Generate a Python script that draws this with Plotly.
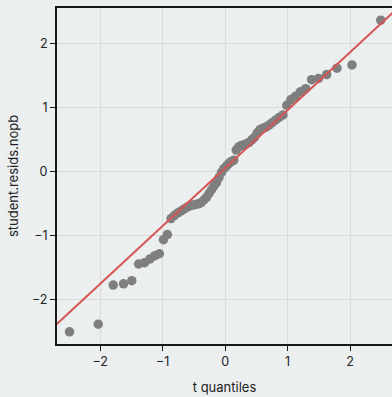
import plotly.graph_objects as go

# t quantiles (x) and sorted studentized residuals (y)
t_quantiles = [-2.49, -2.03, -1.79, -1.625, -1.494, -1.384, -1.288, -1.203, -1.124, -1.053,
               -0.986, -0.924, -0.865, -0.809, -0.755, -0.704, -0.654, -0.606, -0.559, -0.514,
               -0.470, -0.426, -0.383, -0.341, -0.299, -0.258, -0.218, -0.178, -0.138, -0.098,
               -0.059, -0.020, 0.020, 0.059, 0.098, 0.138, 0.178, 0.218, 0.258, 0.299,
               0.341, 0.383, 0.426, 0.470, 0.514, 0.559, 0.606, 0.654, 0.704, 0.755,
               0.809, 0.865, 0.924, 0.986, 1.053, 1.124, 1.203, 1.288, 1.384, 1.494,
               1.625, 1.79, 2.03, 2.49]
student_resids = [-2.51, -2.39, -1.78, -1.76, -1.71, -1.45, -1.43, -1.37, -1.32, -1.29,
                  -1.07, -0.99, -0.74, -0.69, -0.65, -0.62, -0.59, -0.56, -0.54, -0.53,
                  -0.52, -0.51, -0.49, -0.45, -0.41, -0.35, -0.29, -0.23, -0.18, -0.10,
                  -0.02, 0.04, 0.08, 0.12, 0.15, 0.17, 0.33, 0.38, 0.40, 0.41,
                  0.43, 0.45, 0.49, 0.53, 0.60, 0.65, 0.67, 0.69, 0.72, 0.76,
                  0.80, 0.84, 0.88, 1.03, 1.12, 1.17, 1.24, 1.29, 1.43, 1.45,
                  1.51, 1.61, 1.66, 2.36]

line_intercept = 0.05
line_slope = 0.905
line_x = [-2.9, 2.9]
line_y = [line_intercept + line_slope * v for v in line_x]

x_ticks = [-2, -1, 0, 1, 2]
y_ticks = [-2, -1, 0, 1, 2]

fig = go.Figure()
fig.add_trace(go.Scatter(x=t_quantiles, y=student_resids, mode="markers",
                         marker=dict(color="#7f7f7f", size=9.5, line=dict(width=0)),
                         showlegend=False, hoverinfo="skip"))
fig.add_trace(go.Scatter(x=line_x, y=line_y, mode="lines",
                         line=dict(color="#d65552", width=2),
                         showlegend=False, hoverinfo="skip"))

axis_common = dict(showgrid=True, gridcolor="#d8dadb", gridwidth=1, zeroline=False,
                   showline=True, linecolor="#1a1a1a", linewidth=2,
                   ticks="outside", ticklen=5, tickwidth=1.2, tickcolor="#1a1a1a",
                   tickfont=dict(family="Inter, Open Sans, sans-serif", size=12.5, color="#222222"))

fig.update_layout(
    width=392, height=397,
    margin=dict(l=57, r=0, t=8, b=53),
    paper_bgcolor="#eceff0", plot_bgcolor="#eceff0",
    font=dict(family="Inter, Open Sans, sans-serif", color="#222222"),
    xaxis=dict(range=[-2.69, 2.67], tickvals=x_ticks, mirror=True,
               title=dict(text="t quantiles", font=dict(size=13), standoff=15),
               **axis_common),
    yaxis=dict(range=[-2.70, 2.55], tickvals=y_ticks,
               title=dict(text="student.resids.nopb", font=dict(size=13), standoff=10),
               **axis_common),
)

fig.write_html("out.html")
